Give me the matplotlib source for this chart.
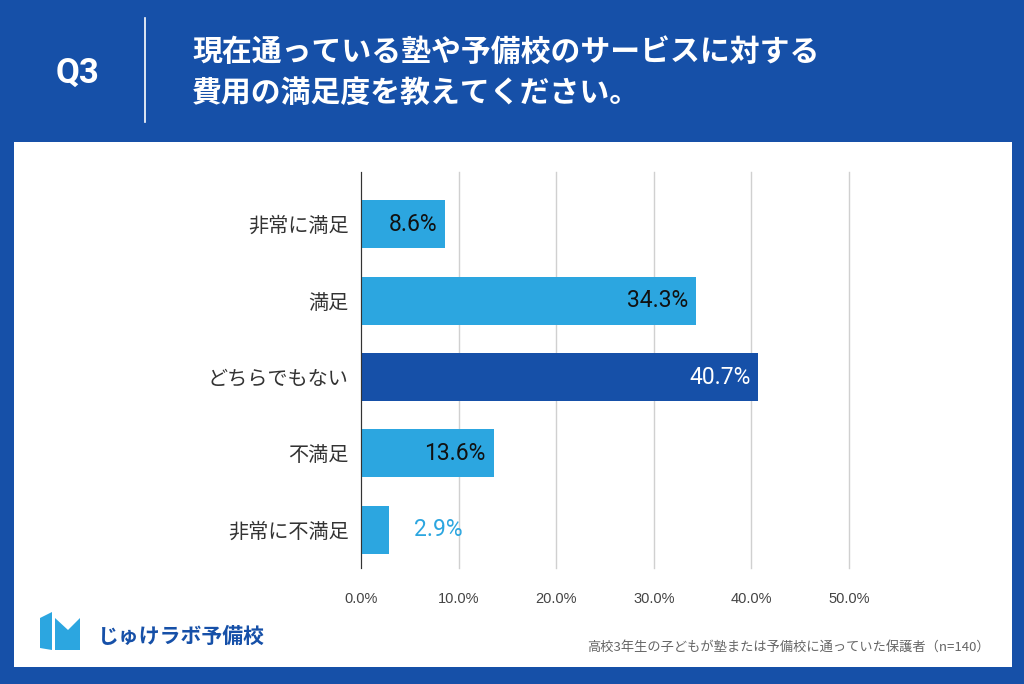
import matplotlib.pyplot as plt
from matplotlib.patches import Rectangle, Polygon

plt.rcParams['font.family'] = ['Noto Sans CJK JP', 'DejaVu Sans']

categories = ['非常に満足', '満足', 'どちらでもない', '不満足', '非常に不満足']
values = [8.6, 34.3, 40.7, 13.6, 2.9]
xticks = [0, 10, 20, 30, 40, 50]
xtick_labels = ['0.0%', '10.0%', '20.0%', '30.0%', '40.0%', '50.0%']
title = '現在通っている塾や予備校のサービスに対する\n費用の満足度を教えてください。'
note = '高校3年生の子どもが塾または予備校に通っていた保護者（n=140）'

navy = '#1650A8'
sky = '#2CA6E0'

fig = plt.figure(figsize=(10.24, 6.84), dpi=100)
fig.patch.set_facecolor(navy)

# white panel
fig.add_artist(Rectangle((14 / 1024, 1 - 667 / 684), 998 / 1024, 525 / 684,
                         transform=fig.transFigure, facecolor='white', edgecolor='none', zorder=0))

# header
fig.text(78 / 1024, 1 - 73 / 684, 'Q3', color='white', fontsize=25, fontweight='bold',
         ha='center', va='center', family=['Roboto', 'DejaVu Sans'])
fig.add_artist(plt.Line2D([145 / 1024, 145 / 1024], [1 - 18 / 684, 1 - 122 / 684],
                          transform=fig.transFigure, color='white', lw=1.2))
fig.text(192 / 1024, 1 - 72 / 684, title, color='white', fontsize=21.5, fontweight='bold',
         ha='left', va='center', linespacing=1.45)

ax = fig.add_axes([361 / 1024, 1 - 568 / 684, 488 / 1024, 396 / 684])
ax.set_facecolor('white')
pos = list(range(len(categories)))
colors = [navy if v == max(values) else sky for v in values]
ax.barh(pos, values, height=0.63, color=colors, zorder=2)
ax.set_xlim(0, 50)
ax.set_ylim(4.5, -0.684)
ax.set_yticks(pos)
ax.set_yticklabels(categories, fontsize=14.5, color='#333333')
ax.set_xticks(xticks)
ax.set_xticklabels(xtick_labels, fontsize=10.5, color='#444444',
                   family=['Liberation Sans', 'DejaVu Sans'])
ax.tick_params(axis='y', length=0, pad=9)
ax.tick_params(axis='x', length=0, pad=17)
ax.grid(axis='x', color='#d0d0d0', lw=1, zorder=1)
for gl in ax.get_xgridlines():
    gl.set_clip_on(False)
for s in ['top', 'right', 'bottom']:
    ax.spines[s].set_visible(False)
ax.spines['left'].set_color('#333333')
ax.spines['left'].set_zorder(3)

for p, v, c in zip(pos, values, colors):
    label = f'{v:.1f}%'
    if v < 5:
        ax.text(v + 2.5, p, label, ha='left', va='center', fontsize=16.5, color=sky,
                family=['Roboto', 'DejaVu Sans'])
    else:
        ax.text(v - 0.8, p, label, ha='right', va='center', fontsize=16.5,
                color='white' if c == navy else '#111111', family=['Roboto', 'DejaVu Sans'])

# logo
fig.add_artist(Polygon([[40 / 1024, 1 - 618 / 684], [52 / 1024, 1 - 612 / 684],
                        [52 / 1024, 1 - 650 / 684], [40 / 1024, 1 - 648 / 684]],
                       closed=True, transform=fig.transFigure, facecolor=sky, edgecolor='none'))
fig.add_artist(Polygon([[55 / 1024, 1 - 618 / 684], [68 / 1024, 1 - 630 / 684],
                        [80 / 1024, 1 - 618 / 684], [80 / 1024, 1 - 650 / 684],
                        [55 / 1024, 1 - 650 / 684]],
                       closed=True, transform=fig.transFigure, facecolor=sky, edgecolor='none'))
fig.text(98 / 1024, 1 - 636 / 684, 'じゅけラボ予備校', color=navy, fontsize=15,
         fontweight='bold', ha='left', va='center')

fig.text(990 / 1024, 1 - 647 / 684, note, color='#666666', fontsize=9.5,
         ha='right', va='center')

fig.savefig('out.png', dpi=100, facecolor=navy)
